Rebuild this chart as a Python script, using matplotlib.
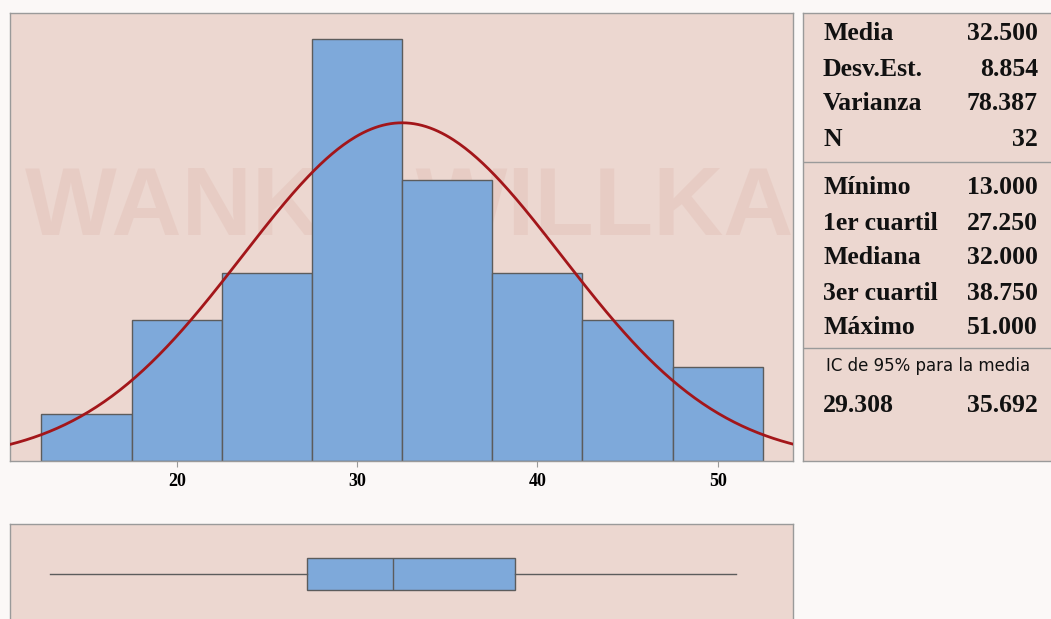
import numpy as np
import matplotlib
matplotlib.use("Agg")
import matplotlib.pyplot as plt

# Histogram data: class midpoints (width 5) and frequencies
bin_centers = [15, 20, 25, 30, 35, 40, 45, 50]
counts = [1, 3, 4, 9, 6, 4, 3, 2]
bin_width = 5

# Descriptive summary
n_obs = 32
mean = 32.5
std = 8.854
variance = 78.387
minimum = 13.0
q1 = 27.25
median = 32.0
q3 = 38.75
maximum = 51.0
ci_low, ci_high = 29.308, 35.692

x_ticks = [20, 30, 40, 50]

panel_bg = "#ecd7d0"
bar_color = "#7ea9da"
edge_color = "#5c5c5c"
curve_color = "#a3161a"
frame_color = "#9a9a9a"

W, H = 1051, 619
fig = plt.figure(figsize=(W / 100, H / 100), dpi=100, facecolor="#fbf8f7")


def px_axes(x0, y0, x1, y1):
    """Axes from pixel box (left, top, right, bottom)."""
    return fig.add_axes([x0 / W, (H - y1) / H, (x1 - x0) / W, (y1 - y0) / H])


xlim = (10.755, 54.18)

# ---- Histogram with fitted normal curve ----
ax = px_axes(10, 13, 793, 461)
ax.set_facecolor(panel_bg)
ax.bar(bin_centers, counts, width=bin_width, color=bar_color,
       edgecolor=edge_color, linewidth=1.0, zorder=2)
xs = np.linspace(xlim[0], xlim[1], 400)
pdf = np.exp(-0.5 * ((xs - mean) / std) ** 2) / (std * np.sqrt(2 * np.pi))
ax.plot(xs, pdf * n_obs * bin_width, color=curve_color, lw=2.0, zorder=3)
ax.text(0.51, 0.56, "WANKA WILLKA", transform=ax.transAxes, ha="center",
        va="center", fontsize=70, fontweight="bold", family="Liberation Sans",
        color="#d9a89c", alpha=0.22, zorder=0.5)
ax.set_xlim(*xlim)
ax.set_ylim(0, 9.55)
ax.set_yticks([])
ax.set_xticks(x_ticks)
ax.set_xticklabels([str(t) for t in x_ticks], fontsize=13, fontweight="bold",
                   family="Liberation Serif")
ax.tick_params(axis="x", length=4, width=0.8, color=frame_color, pad=5)
for s in ax.spines.values():
    s.set_color(frame_color)
    s.set_linewidth(1.0)

# ---- Box plot ----
bx = px_axes(10, 524, 793, 640)
bx.set_facecolor(panel_bg)
stats = [{"med": median, "q1": q1, "q3": q3, "whislo": minimum,
          "whishi": maximum, "fliers": []}]
bx.bxp(stats, positions=[0.569], widths=0.276, orientation="horizontal",
       showcaps=False, patch_artist=True,
       boxprops=dict(facecolor=bar_color, edgecolor=edge_color, linewidth=1.0),
       medianprops=dict(color=edge_color, linewidth=1.0),
       whiskerprops=dict(color=edge_color, linewidth=1.0))
bx.set_xlim(*xlim)
bx.set_ylim(0, 1)
bx.set_xticks([])
bx.set_yticks([])
for s in bx.spines.values():
    s.set_color(frame_color)
    s.set_linewidth(1.0)

# ---- Summary table ----
sx = px_axes(803, 13, 1056, 461)
sx.set_facecolor(panel_bg)
sx.set_xlim(803, 1056)
sx.set_ylim(461, 13)
sx.set_xticks([])
sx.set_yticks([])
for s in sx.spines.values():
    s.set_color(frame_color)
    s.set_linewidth(1.0)

labels_top = ["Media", "Desv.Est.", "Varianza", "N"]
values_top = [f"{mean:.3f}", f"{std:.3f}", f"{variance:.3f}", f"{n_obs}"]
rows_top = [34, 70, 104, 139]
labels_mid = ["Mínimo", "1er cuartil", "Mediana", "3er cuartil", "Máximo"]
values_mid = [f"{minimum:.3f}", f"{q1:.3f}", f"{median:.3f}", f"{q3:.3f}",
              f"{maximum:.3f}"]
rows_mid = [188, 223, 258, 293, 327]

txt = dict(fontsize=18.5, fontweight="bold", family="Liberation Serif",
           color="#111111", va="center")
for lab, val, y in zip(labels_top + labels_mid, values_top + values_mid,
                       rows_top + rows_mid):
    sx.text(823, y, lab, ha="left", **txt)
    sx.text(1038, y, val, ha="right", **txt)

sx.axhline(162, color=frame_color, lw=1.0)
sx.axhline(348, color=frame_color, lw=1.0)
sx.text(928, 366, "IC de 95% para la media", ha="center", va="center",
        fontsize=12, family="DejaVu Sans", color="#111111")
sx.text(823, 405, f"{ci_low:.3f}", ha="left", **txt)
sx.text(1038, 405, f"{ci_high:.3f}", ha="right", **txt)

fig.savefig("out.png", dpi=100, facecolor=fig.get_facecolor())
